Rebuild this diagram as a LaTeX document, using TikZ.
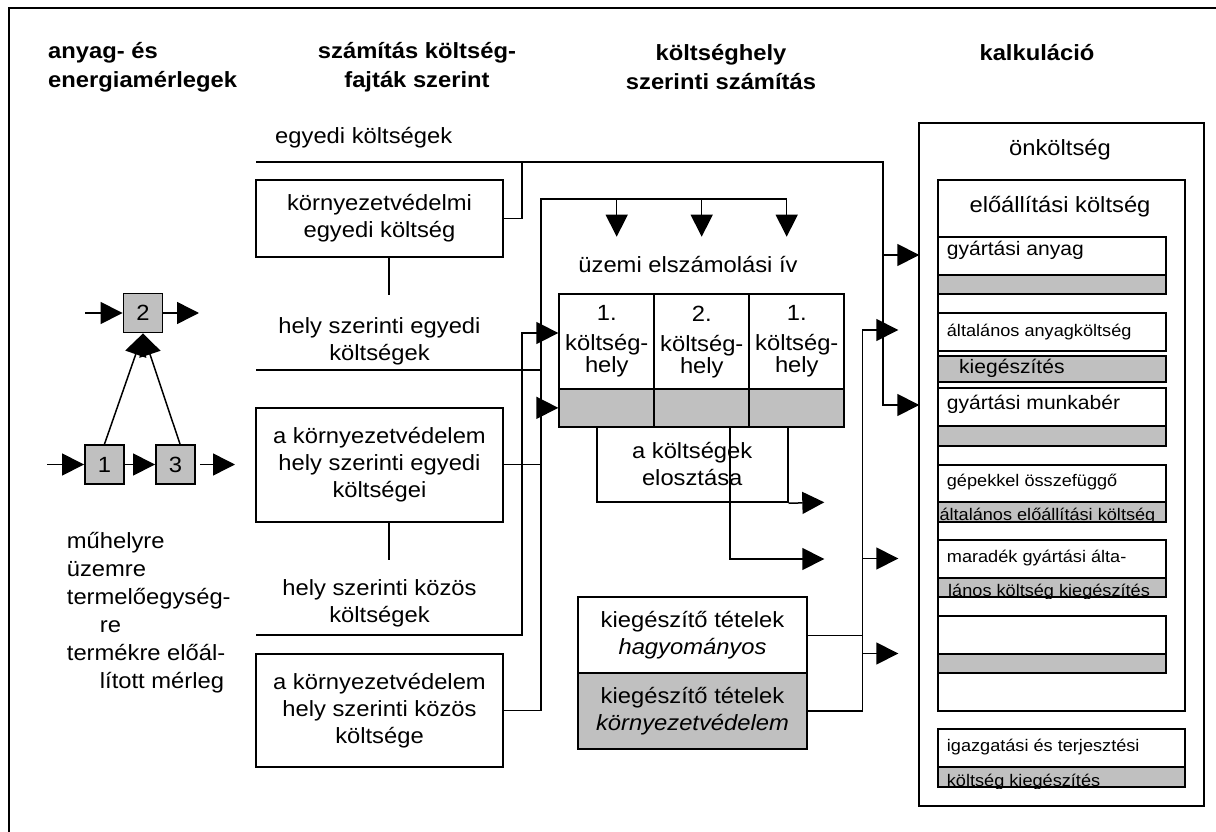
\documentclass[tikz,border=0pt]{standalone}
\usepackage{fontspec}
\setmainfont{Liberation Sans}[FakeStretch=1.08]
\usetikzlibrary{arrows.meta, calc}
\definecolor{cellgray}{RGB}{192,192,192}
\newcommand{\txtmain}{\fontsize{22pt}{27pt}\selectfont}
\newcommand{\txtmid}{\fontsize{19.5pt}{23pt}\selectfont}
\newcommand{\txtsmall}{\fontsize{16.8pt}{20pt}\selectfont}

\begin{document}
\begin{tikzpicture}[x=1pt, y=-1pt,
    box/.style={draw, line width=1.9pt, align=center, inner sep=0pt, font=\txtmain},
    cell/.style={draw, line width=1.9pt, align=center, inner sep=0pt, minimum width=95pt, font=\fontsize{22pt}{22pt}\selectfont},
    proc/.style={draw, line width=1.9pt, fill=cellgray, minimum size=39pt, inner sep=0pt, font=\txtmain},
    row/.style={draw, line width=1.9pt, minimum width=227.7pt, inner sep=0pt},
    rowg/.style={row, fill=cellgray},
    lbl/.style={inner sep=0pt, align=center, font=\txtmain},
    head/.style={inner sep=0pt, align=center, font=\txtmain\bfseries},
    link/.style={line width=1.5pt},
    arr/.style={line width=1.5pt, -{Triangle[length=22pt, width=22pt]}}
  ]
  \useasboundingbox (0,0) rectangle (1216,832);
  % Frame
  \coordinate (frameBL) at (8.7,840);
  \coordinate (frameTL) at (8.7,8.3);
  \coordinate (frameTR) at (1230,8.3);
  \draw[line width=2pt] (frameBL) -- (frameTL) -- (frameTR);

  % Column headings
  \node[head, align=left, anchor=west] (hBalance) at (48,67.5) {anyag- és\\[2pt]energiamérlegek};
  \node[head] (hKind) at (417,67.5) {számítás költség-\\[2pt]fajták szerint};
  \node[head] (hPlace) at (721,67.5) {költséghely\\[2pt]szerinti számítás};
  \node[head] (hCalc) at (1037,53) {kalkuláció};

  % Material and energy balance
  \node[proc] (n2) at (143,313) {2};
  \node[proc] (n1) at (104.5,464.5) {1};
  \node[proc] (n3) at (175.5,464.5) {3};
  \coordinate (in2) at (85,313);
  \coordinate (out2) at (199,313);
  \coordinate (in1) at (47,464.5);
  \coordinate (out3) at (235,464.5);
  \draw[arr] (in2) -- (n2.west);
  \draw[arr] (n2.east) -- (out2);
  \draw[arr] (in1) -- (n1.west);
  \draw[arr] (n1.east) -- (n3.west);
  \draw[arr] ([xshift=4pt]n3.east) -- (out3);
  \draw[arr] (n1.north) -- (n2.south);
  \draw[arr] ([xshift=4.5pt]n3.north) -- (n2.south);
  \node[lbl, align=left, anchor=north west, font=\fontsize{22pt}{28pt}\selectfont] (levels) at (66.7,532)
    {műhelyre\\üzemre\\termelőegység-\\\hspace*{33pt}re\\termékre előál-\\\hspace*{33pt}lított mérleg};

  % Cost types
  \node[lbl, anchor=west] (tEgyedi) at (275,138) {egyedi költségek};
  \node[box, minimum width=247pt, minimum height=77pt] (kvEgyedi) at (379.5,218.5) {környezetvédelmi\\egyedi költség};
  \node[lbl] (tHelyEgyedi) at (379.5,341.5) {hely szerinti egyedi\\költségek};
  \node[box, minimum width=247pt, minimum height=114pt] (kvHelyEgyedi) at (379.5,464.7) {a környezetvédelem\\hely szerinti egyedi\\költségei};
  \node[lbl] (tHelyKozos) at (379.5,603.3) {hely szerinti közös\\költségek};
  \node[box, minimum width=247pt, minimum height=113.3pt] (kvHelyKozos) at (379.5,710.7) {a környezetvédelem\\hely szerinti közös\\költsége};

  % Direct costs
  \coordinate (eStart) at (256,162);
  \coordinate (eTurn) at (883,162);
  \coordinate (jA) at (522,162);
  \coordinate (anyagIn) at (919.3,255);
  \coordinate (munkaIn) at (919.3,405);
  \draw[arr] (eStart) -- (eTurn) |- (munkaIn);
  \draw[arr] (eTurn |- anyagIn) -- (anyagIn);
  \draw[link] (kvEgyedi.east) -| (jA);
  \draw[link] ([xshift=9.5pt]kvEgyedi.south) -- ++(0,37);
  \draw[link] ([xshift=9.5pt]kvHelyEgyedi.south) -- ++(0,37.6);

  % Cost centre sheet
  \coordinate (fTop) at (541,199);
  \coordinate (fEnd) at (786.7,199);
  \draw[link] (kvHelyKozos.east) -| (fTop) -- (fEnd);
  \foreach \x [count=\i] in {616.7,701.7,786.7} {
    \coordinate (drop\i) at (\x,199);
    \coordinate (dropEnd\i) at (\x,236.7);
    \draw[arr] (drop\i) -- (dropEnd\i);
  }
  \node[lbl] (uzemi) at (688,265) {üzemi elszámolási ív};
  \foreach \num [count=\c] in {1,2,1} {
    \node[cell, minimum height=94.7pt] (cell\c) at ({559.3+95*(\c-0.5)},341.65) {\num.\\[8pt]költség-\\hely};
    \node[cell, fill=cellgray, minimum height=37.7pt] (cellG\c) at ({559.3+95*(\c-0.5)},407.85) {};
  }
  \coordinate (heStart) at (256,370);
  \coordinate (hkStart) at (256,635);
  \coordinate (jB) at (522,333);
  \draw[link] (heStart) -- (heStart -| fTop);
  \draw[link] (kvHelyEgyedi.east) -- (kvHelyEgyedi.east -| fTop);
  \draw[arr] (hkStart) -| (jB) -- (jB -| cell1.west);
  \draw[arr] (cellG1.west -| fTop) -- (cellG1.west);

  % Distribution
  \node[box, minimum width=191pt, minimum height=75.6pt] (eloszt) at (692.2,464.5) {a költségek\\elosztása};
  \coordinate (elOut1) at (824.3,502.3);
  \coordinate (elOut2) at (824.3,559);
  \draw[arr] (eloszt.south east) -- (elOut1);
  \draw[arr] ([xshift=28.2pt]cellG2.south) |- (elOut2);

  % Additional items
  \node[box, minimum width=228.4pt, minimum height=76pt] (kiegHagy) at (692.5,635.3) {kiegészítő tételek\\\textit{hagyományos}};
  \node[box, fill=cellgray, minimum width=228.4pt, minimum height=75.7pt] (kiegKv) at (692.5,711.2) {kiegészítő tételek\\\textit{környezetvédelem}};
  \coordinate (jK) at (862.3,330);
  \coordinate (altIn) at (898.3,330);
  \coordinate (marIn) at (898.3,558.5);
  \coordinate (uresIn) at (898.3,653.5);
  \draw[arr] (kiegKv.east) -| (jK) -- (altIn);
  \draw[link] (kiegHagy.east) -- (kiegHagy.east -| jK);
  \draw[arr] (jK |- marIn) -- (marIn);
  \draw[arr] (jK |- uresIn) -- (uresIn);

  % Calculation
  \node[box, minimum width=284.7pt, minimum height=682.7pt] (onk) at (1061.65,464.65) {};
  \node[lbl] (tOnk) at (1060,150) {önköltség};
  \node[box, minimum width=246.7pt, minimum height=530.7pt] (eloall) at (1061.65,445.35) {};
  \node[lbl] (tEloall) at (1060,206.7) {előállítási költség};
  \foreach \n/\yw/\hw/\yg/\hg in {anyag/256.15/37.7/284.5/19, altal/331.7/38/368.85/25.7,
      munka/407.15/37.7/435.85/19.7, gepek/483.35/36.7/511.7/20,
      marad/558.85/37.7/587.5/19.6, ures/635/38/663.65/19.3} {
    \node[row, minimum height=\hw pt] (\n) at (1052.15,\yw) {};
    \node[rowg, minimum height=\hg pt] (\n-g) at (1052.15,\yg) {};
  }
  \node[row, minimum width=246.7pt, minimum height=38pt] (igaz) at (1061.65,748.3) {};
  \node[rowg, minimum width=246.7pt, minimum height=20pt] (igaz-g) at (1061.65,777.3) {};
  \node[lbl, anchor=west, font=\txtmid] (tAnyag) at (946.7,250) {gyártási anyag};
  \node[lbl, anchor=west, font=\txtsmall] (tAltal) at (946.7,331.7) {általános anyagköltség};
  \node[lbl, anchor=west, font=\txtmid] (tKieg) at (959,368) {kiegészítés};
  \node[lbl, anchor=west, font=\txtmid] (tMunka) at (946.7,404) {gyártási munkabér};
  \node[lbl, anchor=west, font=\txtsmall] (tGepek) at (946.7,481.7) {gépekkel összefüggő};
  \node[lbl, anchor=west, font=\txtsmall] (tMarad) at (946.7,558.3) {maradék gyártási álta-};
  \node[lbl, anchor=west, font=\txtsmall] (tIgaz) at (946.7,746.7) {igazgatási és terjesztési};
  \begin{scope}
    \clip (gepek-g.south west) rectangle (gepek-g.north east);
    \node[lbl, anchor=base west, font=\txtsmall] (tGepekG) at (939.3,520) {általános előállítási költség};
  \end{scope}
  \begin{scope}
    \clip (marad-g.south west) rectangle (marad-g.north east);
    \node[lbl, anchor=base west, font=\txtsmall] (tMaradG) at (948,596.5) {lános költség kiegészítés};
  \end{scope}
  \begin{scope}
    \clip (igaz-g.south west) rectangle (igaz-g.north east);
    \node[lbl, anchor=base west, font=\txtsmall] (tIgazG) at (946.7,786) {költség kiegészítés};
  \end{scope}
\end{tikzpicture}
\end{document}
